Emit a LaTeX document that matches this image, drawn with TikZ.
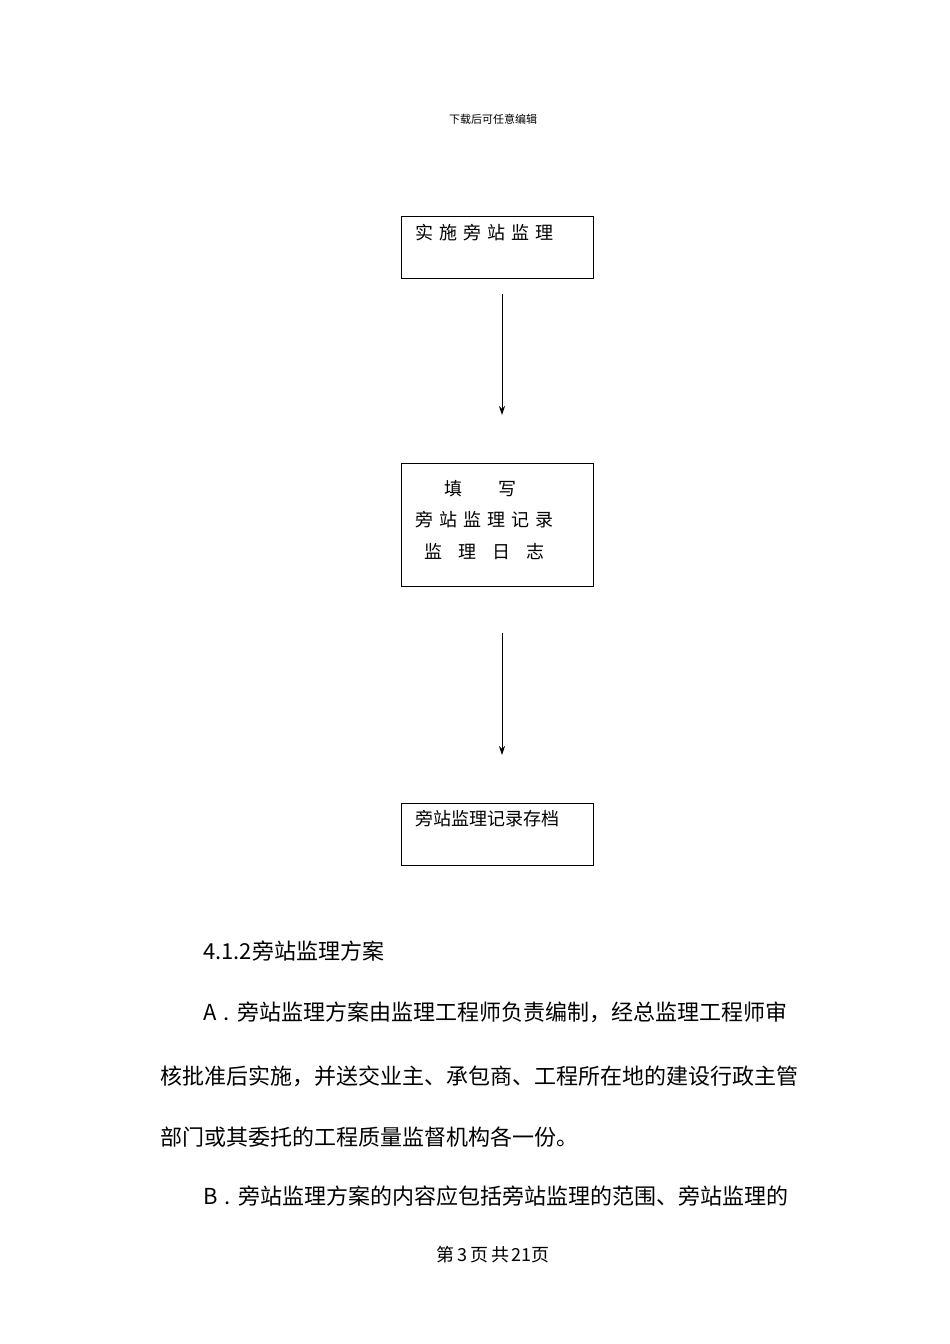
\documentclass[tikz,border=0pt]{standalone}
\usepackage{fontspec}
\newfontfamily\cjk{Noto Sans CJK SC}
\usetikzlibrary{arrows.meta}
\begin{document}
\begin{tikzpicture}[x=1pt,y=-1pt,
  box/.style={draw,line width=1pt},
  txt/.style={anchor=west,inner sep=0pt,font=\cjk\fontsize{18}{20}\selectfont},
  para/.style={anchor=west,inner sep=0pt,font=\cjk\fontsize{22}{24}\selectfont},
  arr/.style={line width=1pt,-{Stealth[length=9pt,width=6pt]}}]
\useasboundingbox (0,0) rectangle (950,1344);
\node[inner sep=0pt,font=\cjk\fontsize{11}{13}\selectfont] (hdr) at (493,119) {下载后可任意编辑};
\node[box,minimum width=192,minimum height=62,anchor=north west] (b1) at (401,216) {};
\node[txt] (t1) at (415,233) {实\,\,施\,\,旁\,\,站\,\,监\,\,理};
\node[box,minimum width=192,minimum height=123,anchor=north west] (b2) at (401,463) {};
\node[txt] (t2a) at (444,489) {填\hspace{2em}写};
\node[txt] (t2b) at (415,520) {旁\,\,站\,\,监\,\,理\,\,记\,\,录};
\node[txt] (t2c) at (424,552) {监\hspace{0.9em}理\hspace{0.9em}日\hspace{0.9em}志};
\node[box,minimum width=192,minimum height=62,anchor=north west] (b3) at (401,803) {};
\node[txt] (t3) at (415,819) {旁站监理记录存档};
\coordinate (a1s) at (502,294); \coordinate (a1e) at (502,415);
\coordinate (a2s) at (502,633); \coordinate (a2e) at (502,755);
\draw[arr] (a1s) -- (a1e);
\draw[arr] (a2s) -- (a2e);
\node[para] (p0) at (203,951) {4.1.2旁站监理方案};
\node[para] (p1) at (203,1012) {A\,\,.\,\,旁站监理方案由监理工程师负责编制，经总监理工程师审};
\node[para] (p2) at (160,1076) {核批准后实施，并送交业主、承包商、工程所在地的建设行政主管};
\node[para] (p3) at (160,1137) {部门或其委托的工程质量监督机构各一份。};
\node[para] (p4) at (203,1196) {B\,\,.\,\,旁站监理方案的内容应包括旁站监理的范围、旁站监理的};
\node[inner sep=0pt,font=\cjk\fontsize{18}{20}\selectfont] (ftr) at (493,1255) {第\,3\,页\,共\,21页};
\end{tikzpicture}
\end{document}
